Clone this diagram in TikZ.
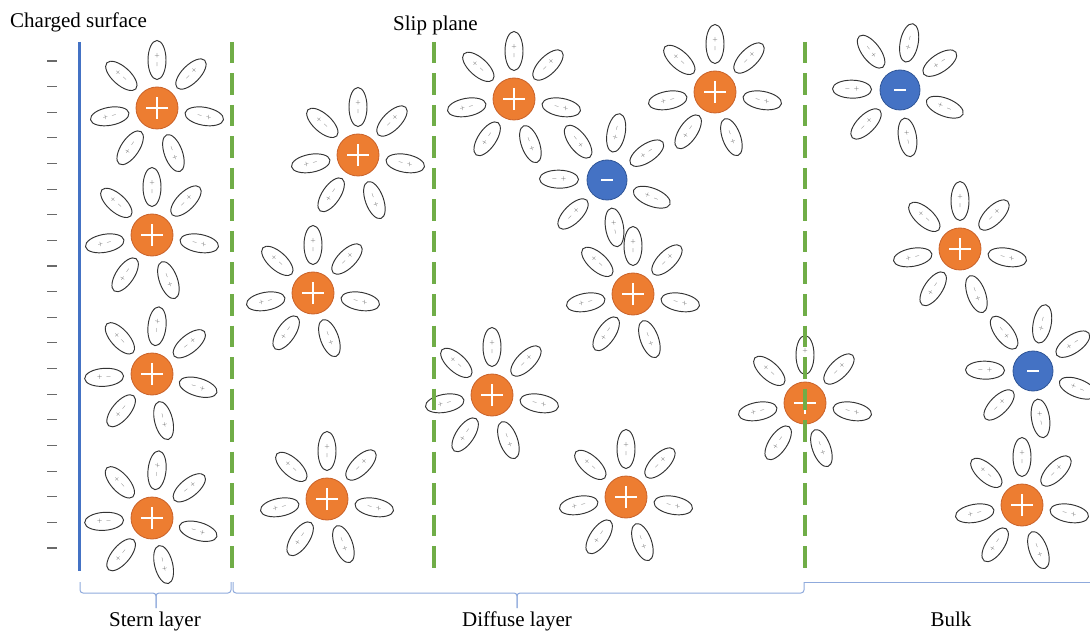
\documentclass[tikz,border=0pt]{standalone}
\usepackage{fontspec}
\setmainfont{Liberation Serif}
\usetikzlibrary{shapes.geometric,calc}

\definecolor{ionorange}{HTML}{ED7D31}
\definecolor{ionorangeedge}{HTML}{C9622A}
\definecolor{ionblue}{HTML}{4472C4}
\definecolor{ionblueedge}{HTML}{2F5597}
\definecolor{slipgreen}{HTML}{70AD47}
\definecolor{surfaceblue}{HTML}{4472C4}
\definecolor{bracecol}{HTML}{8FAADC}
\definecolor{waterline}{HTML}{333333}
\definecolor{chargegray}{HTML}{6A6A6A}

\tikzset{
  water/.style={ellipse, draw=waterline, line width=0.95pt,
    minimum width=39pt, minimum height=18pt, inner sep=0pt},
  sign/.style={inner sep=0pt, text=black!70, font=\fontsize{6.5}{6.5}\selectfont},
  cation/.style={circle, minimum size=42pt, inner sep=0pt, fill=ionorange,
    draw=ionorangeedge, line width=0.8pt,
    path picture={\draw[white, line width=1.3pt]
      ([xshift=-11pt]path picture bounding box.center) -- ([xshift=11pt]path picture bounding box.center)
      ([yshift=-11pt]path picture bounding box.center) -- ([yshift=11pt]path picture bounding box.center);}},
  anion/.style={circle, minimum size=40pt, inner sep=0pt, fill=ionblue,
    draw=ionblueedge, line width=0.8pt,
    path picture={\draw[white, line width=2pt]
      ([xshift=-6pt]path picture bounding box.center) -- ([xshift=6pt]path picture bounding box.center);}},
  slipline/.style={draw=slipgreen, line width=3.2pt, dash pattern=on 21.5pt off 10pt},
  surfaceline/.style={draw=surfaceblue, line width=3pt},
  chargemark/.style={draw=chargegray, line width=1.1pt},
  bracestyle/.style={draw=bracecol, line width=1pt, rounded corners=3pt},
  label/.style={inner sep=0pt, font=\fontsize{21}{21}\selectfont}
}

% hydrated ion: name, x, y, turn, ion style, sign next to the ion, outer sign
\newcommand\hydrated[7]{%
  \node[#5] (#1) at (#2,#3) {};
  \foreach \a [count=\i] in {90,138,190,236,290,350,45}{
    \pgfmathsetmacro\t{\a+#4}
    \node[water, rotate=\t] (#1w\i) at ($(#1)+(\t:48pt)$) {};
    \node[sign, rotate=\t] (#1n\i) at ($(#1)+(\t:43.5pt)$) {#6};
    \node[sign, rotate=\t] (#1f\i) at ($(#1)+(\t:52.5pt)$) {#7};
  }%
}

\begin{document}
\begin{tikzpicture}[x=1pt, y=-1pt]
  \useasboundingbox (0,0) rectangle (1090,631);

  % charged surface with its negative charges
  \foreach \k in {0,...,19}{
    \draw[chargemark] (47,{61+25.63*\k}) -- (57,{61+25.63*\k});
  }
  \draw[surfaceline] (79,42) -- (79,571);

  % cations with their hydration shells
  \hydrated{c1}{157}{108}{0}{cation}{$-$}{$+$}
  \hydrated{c2}{152}{235}{0}{cation}{$-$}{$+$}
  \hydrated{c3}{152}{374}{-6}{cation}{$-$}{$+$}
  \hydrated{c4}{152}{518}{-6}{cation}{$-$}{$+$}
  \hydrated{c5}{358}{155}{0}{cation}{$-$}{$+$}
  \hydrated{c6}{313}{293}{0}{cation}{$-$}{$+$}
  \hydrated{c7}{327}{499}{0}{cation}{$-$}{$+$}
  \hydrated{c8}{514}{99}{0}{cation}{$-$}{$+$}
  \hydrated{c9}{715}{92}{0}{cation}{$-$}{$+$}
  \hydrated{c10}{633}{294}{0}{cation}{$-$}{$+$}
  \hydrated{c11}{492}{395}{0}{cation}{$-$}{$+$}
  \hydrated{c12}{626}{497}{0}{cation}{$-$}{$+$}
  \hydrated{c13}{805}{403}{0}{cation}{$-$}{$+$}
  \hydrated{c14}{960}{249}{0}{cation}{$-$}{$+$}
  \hydrated{c15}{1022}{505}{0}{cation}{$-$}{$+$}

  % anions with their hydration shells
  \hydrated{a1}{607}{180}{-11}{anion}{$+$}{$-$}
  \hydrated{a2}{900}{90}{-11}{anion}{$+$}{$-$}
  \hydrated{a3}{1033}{371}{-11}{anion}{$+$}{$-$}

  % Stern plane, slip plane and bulk boundary
  \draw[slipline] (232,42) -- (232,571);
  \draw[slipline] (434,42) -- (434,571);
  \draw[slipline] (805,42) -- (805,571);

  % braces under the layers
  \draw[bracestyle] (80,582) -- (80,593) -- (156,593) -- (156,608);
  \draw[bracestyle] (156,608) -- (156,593) -- (231,593) -- (231,582);
  \draw[bracestyle] (233,582) -- (233,593) -- (517,593) -- (517,608);
  \draw[bracestyle] (517,608) -- (517,593) -- (804,593) -- (804,582);
  \draw[bracestyle] (804,582) -- (1090,582);

  % labels
  \node[label, anchor=base west] (surf) at (10,28) {Charged surface};
  \node[label, anchor=base west] (slip) at (393,31) {Slip plane};
  \node[label, anchor=base] (stern) at (155,626) {Stern layer};
  \node[label, anchor=base] (diffuse) at (517,626) {Diffuse layer};
  \node[label, anchor=base] (bulk) at (951,626) {Bulk};
\end{tikzpicture}
\end{document}
